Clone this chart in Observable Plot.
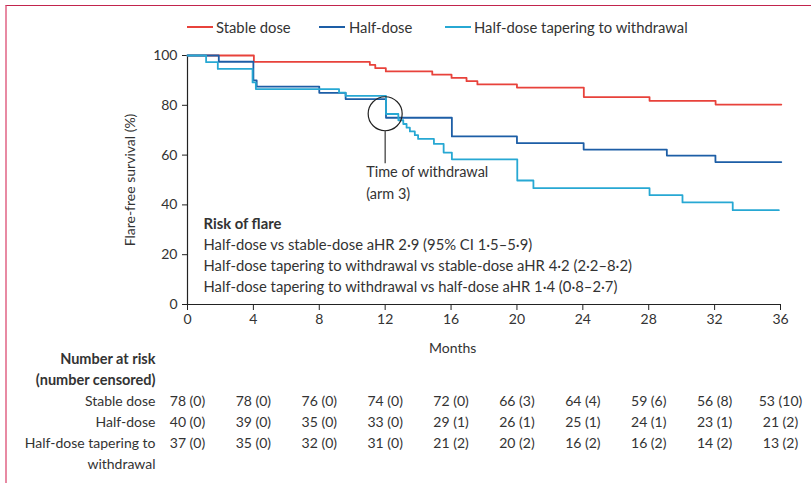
<!DOCTYPE html>
<html>
<head>
<meta charset="utf-8">
<script src="https://cdn.jsdelivr.net/npm/d3@7"></script>
<script src="https://cdn.jsdelivr.net/npm/@observablehq/plot@0.6"></script>
<style>
  html, body { margin: 0; padding: 0; background: #fff; }
  body { width: 811px; height: 483px; position: relative; overflow: hidden; font-family: Lato, sans-serif; color: #333; }
  #frame { position: absolute; left: 5px; top: 5px; right: 0; bottom: 0; border-top: 1px solid #c2244d; border-left: 2px solid #e88aa3; }
  #legend { position: absolute; top: 0; left: 0; width: 811px; height: 45px; font-size: 14.8px; }
  .sw { position: absolute; top: 26px; height: 2px; width: 26px; }
  .lt { position: absolute; top: 18px; line-height: 18px; white-space: nowrap; }
  #main { position: absolute; top: 0; left: 0; }
  #table { position: absolute; left: 0; top: 343px; }
</style>
</head>
<body>
<div id="frame"></div>
<div id="legend"></div>
<div id="main"></div>
<div id="table"></div>
<script>
// ---- data ----
const arms = ["Stable dose", "Half-dose", "Half-dose tapering to withdrawal"];
const armColors = ["#e8423b", "#1d5ea6", "#27a8d3"];

const stableT = [0, 4.03, 11.07, 11.4, 12.04, 14.86, 16.03, 16.94, 17.6, 20.0, 24.06, 28.05, 32.06, 36.05];
const stableS = [100, 97.4, 96.2, 94.9, 93.6, 92.3, 91.0, 89.7, 88.4, 87.1, 83.3, 81.8, 80.3, 80.3];

const halfT = [0, 1.9, 4.0, 4.2, 8.0, 9.6, 12.05, 16.05, 20.0, 24.05, 29.1, 32.05, 36.05];
const halfS = [100, 97.5, 90.0, 87.5, 85.0, 82.5, 75.0, 67.5, 64.8, 62.2, 59.8, 57.2, 57.2];

const taperT = [0, 1.13, 1.84, 3.95, 4.15, 9.2, 9.6, 12.05, 12.8, 13.1, 13.3, 13.5, 13.8, 14.0, 14.96, 15.55, 16.05, 20.02, 21.0, 28.05, 30.05, 33.1, 35.9];
const taperS = [100, 97.3, 94.6, 89.2, 86.5, 85.1, 83.8, 76.5, 74.0, 72.5, 71.0, 69.5, 68.0, 66.5, 64.5, 61.0, 58.3, 49.8, 46.7, 43.9, 41.0, 37.9, 37.9];

const xTicks = [0, 4, 8, 12, 16, 20, 24, 28, 32, 36];
const yTicks = [0, 20, 40, 60, 80, 100];
const xLabel = "Months";
const xLabelAt = 16.1;

const riskTitle = "Risk of flare";
const riskLines = [
  "Half-dose vs stable-dose aHR 2·9 (95% CI 1·5–5·9)",
  "Half-dose tapering to withdrawal vs stable-dose aHR 4·2 (2·2–8·2)",
  "Half-dose tapering to withdrawal vs half-dose aHR 1·4 (0·8–2·7)"
];
const riskY = [32.1, 23.7, 15.3, 6.9];

const withdrawalPoint = {x: 12, y: 76.6};
const withdrawalLine = {x: 12, y1: 69.9, y2: 56.5};
const withdrawalText = ["Time of withdrawal", "(arm 3)"];
const withdrawalTextY = [53.0, 44.2];

// number at risk (number censored)
const stableN = [78, 78, 76, 74, 72, 66, 64, 59, 56, 53];
const stableC = [0, 0, 0, 0, 0, 3, 4, 6, 8, 10];
const halfN = [40, 39, 35, 33, 29, 26, 25, 24, 23, 21];
const halfC = [0, 0, 0, 0, 1, 1, 1, 1, 1, 2];
const taperN = [37, 35, 32, 31, 21, 20, 16, 16, 14, 13];
const taperC = [0, 0, 0, 0, 2, 2, 2, 2, 2, 2];
const tableRows = ["h1", "h2", "r1", "r2", "r3", "r4"];
const tableLabels = ["Number at risk", "(number censored)", "Stable dose", "Half-dose", "Half-dose tapering to", "withdrawal"];

// ---- legend ----
const legendPos = [[187, 216], [319, 349], [445, 474]];
const legend = document.getElementById("legend");
arms.forEach((a, i) => {
  const sw = document.createElement("div");
  sw.className = "sw"; sw.style.left = legendPos[i][0] + "px"; sw.style.background = armColors[i];
  legend.appendChild(sw);
  const t = document.createElement("div");
  t.className = "lt"; t.style.left = legendPos[i][1] + "px"; t.textContent = a;
  legend.appendChild(t);
});

// ---- build curve table ----
const curves = [];
[[stableT, stableS], [halfT, halfS], [taperT, taperS]].forEach(([T, S], i) => {
  T.forEach((t, j) => curves.push({arm: arms[i], t, s: S[j]}));
});

const textColor = "#333";

const main = Plot.plot({
  width: 811,
  height: 360,
  marginTop: 55,
  marginBottom: 56,
  marginLeft: 187,
  marginRight: 31,
  style: {fontFamily: "Lato, sans-serif", fontSize: "14px", color: "#222", background: "transparent", overflow: "visible"},
  x: {domain: [0, 36]},
  y: {domain: [0, 100]},
  color: {domain: arms, range: armColors},
  marks: [
    Plot.axisY({ticks: yTicks, tickSize: 5, tickPadding: 5, label: "Flare-free survival (%)", labelAnchor: "center", labelOffset: 62, labelArrow: "none", fill: textColor}),
    Plot.axisX({ticks: xTicks, tickSize: 6, tickPadding: 4, label: null, fill: textColor}),
    Plot.text([xLabel], {x: () => xLabelAt, frameAnchor: "bottom", dy: 48, text: d => d, fill: textColor}),
    Plot.ruleX([0], {stroke: "#222", strokeWidth: 1.2}),
    Plot.ruleY([0], {stroke: "#222", strokeWidth: 1.2}),
    Plot.line(curves, {x: "t", y: "s", z: "arm", stroke: "arm", curve: "step-after", strokeWidth: 1.8}),
    Plot.dot([withdrawalPoint], {x: "x", y: "y", r: 17, stroke: "#222", strokeWidth: 1.2, fill: "none"}),
    Plot.ruleX([withdrawalLine], {x: "x", y1: "y1", y2: "y2", stroke: "#444", strokeWidth: 1.3}),
    Plot.text(withdrawalText, {x: () => withdrawalPoint.x, y: (d, i) => withdrawalTextY[i], text: d => d, textAnchor: "start", dx: -19, fill: textColor, fontSize: 14.5}),
    Plot.text([riskTitle], {x: () => 0, y: () => riskY[0], text: d => d, textAnchor: "start", dx: 16, fontWeight: "bold", fill: textColor, fontSize: 14.8}),
    Plot.text(riskLines, {x: () => 0, y: (d, i) => riskY[i + 1], text: d => d, textAnchor: "start", dx: 16, fill: textColor, fontSize: 14.8})
  ]
});
document.getElementById("main").appendChild(main);

// ---- risk table ----
const cells = [];
[[stableN, stableC, "r1"], [halfN, halfC, "r2"], [taperN, taperC, "r3"]].forEach(([N, C, row]) => {
  N.forEach((n, j) => cells.push({row, t: xTicks[j], label: `${n} (${C[j]})`}));
});
const labels = tableRows.map((r, i) => ({row: r, label: tableLabels[i], bold: i < 2}));

const table = Plot.plot({
  width: 811,
  height: 140,
  marginTop: 0, marginBottom: 0,
  marginLeft: 187,
  marginRight: 31,
  style: {fontFamily: "Lato, sans-serif", fontSize: "14px", color: "#222", background: "transparent", overflow: "visible"},
  x: {domain: [0, 36], axis: null},
  y: {type: "point", domain: tableRows, range: [15, 122], padding: 0, axis: null},
  marks: [
    Plot.text(labels.filter(d => d.bold), {x: () => 0, y: "row", text: "label", textAnchor: "end", dx: -32, fill: textColor, fontWeight: "bold", fontSize: 14.5}),
    Plot.text(labels.filter(d => !d.bold), {x: () => 0, y: "row", text: "label", textAnchor: "end", dx: -32, fill: textColor}),
    Plot.text(cells, {x: "t", y: "row", text: "label", textAnchor: "middle", fill: textColor})
  ]
});
document.getElementById("table").appendChild(table);
</script>
</body>
</html>
